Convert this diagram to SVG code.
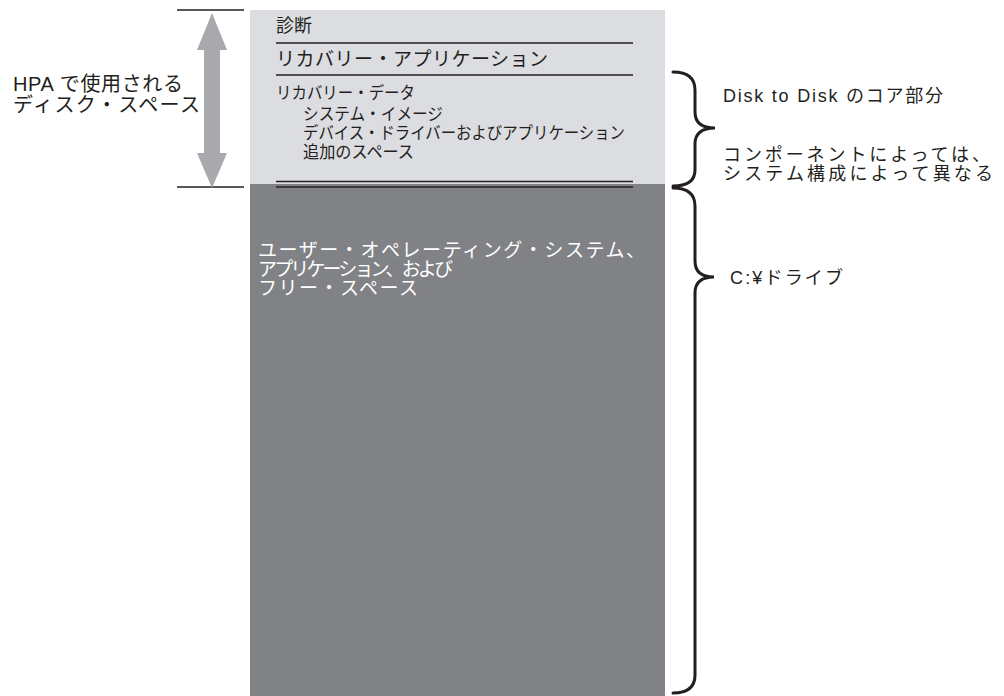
<svg xmlns="http://www.w3.org/2000/svg" width="1004" height="696" viewBox="0 0 1004 696">
<style>
text{font-family:"Liberation Sans","Noto Sans CJK JP",sans-serif;fill:#231f20}
.s17{font-size:17px}
.s18{font-size:18px}
.s19{font-size:19px}
.s20{font-size:20px}
.w{fill:#ffffff}
.rule{stroke:#231f20;stroke-width:1.3;fill:none}
.brace{stroke:#231f20;stroke-width:3;fill:none;stroke-linecap:round}
</style>
<rect width="1004" height="696" fill="#ffffff"/>
<g id="hpa">
<rect x="250" y="10" width="415" height="174" fill="#dcdde0"/>
<text class="s18" x="276" y="32">診断</text>
<line class="rule" x1="276" y1="43" x2="633" y2="43"/>
<text class="s19" x="276" y="66" textLength="272" lengthAdjust="spacing">リカバリー・アプリケーション</text>
<line class="rule" x1="276" y1="75" x2="633" y2="75"/>
<text class="s17" x="276" y="99" textLength="139" lengthAdjust="spacingAndGlyphs">リカバリー・データ</text>
<text class="s17" x="303" y="120" textLength="140" lengthAdjust="spacingAndGlyphs">システム・イメージ</text>
<text class="s17" x="303" y="139" textLength="322" lengthAdjust="spacingAndGlyphs">デバイス・ドライバーおよびアプリケーション</text>
<text class="s17" x="303" y="158" textLength="111" lengthAdjust="spacingAndGlyphs">追加のスペース</text>
<line class="rule" x1="276" y1="181.5" x2="633" y2="181.5"/>
</g>
<g id="cdrive">
<rect x="250" y="184" width="415" height="512" fill="#808285"/>
<line class="rule" x1="276" y1="187" x2="633" y2="187"/>
<text class="s19 w" x="258" y="257" textLength="387" lengthAdjust="spacing">ユーザー・オペレーティング・システム、</text>
<text class="s19 w" x="258" y="276" textLength="195" lengthAdjust="spacing">アプリケーション、および</text>
<text class="s19 w" x="258" y="295" textLength="160" lengthAdjust="spacing">フリー・スペース</text>
</g>
<g id="hpa-label">
<text class="s20" x="13" y="91" textLength="170" lengthAdjust="spacing">HPA で使用される</text>
<text class="s20" x="13" y="112" textLength="187" lengthAdjust="spacing">ディスク・スペース</text>
</g>
<g id="core-label">
<text class="s18" x="723" y="102" textLength="220" lengthAdjust="spacing">Disk to Disk のコア部分</text>
<text class="s18" x="723" y="161" textLength="267" lengthAdjust="spacing">コンポーネントによっては、</text>
<text class="s18" x="723" y="180" textLength="270" lengthAdjust="spacing">システム構成によって異なる</text>
</g>
<g id="c-label">
<text class="s18" x="730" y="284" textLength="113" lengthAdjust="spacing">C:¥ドライブ</text>
</g>
<g id="connectors">
<line class="rule" x1="177" y1="10" x2="244" y2="10"/>
<line class="rule" x1="177" y1="187" x2="244" y2="187"/>
<polygon points="212,13 227,50 220,50 220,153 227,153 212,188 197,153 204,153 204,50 197,50" fill="#a7a9ac"/>
<path class="brace" d="M673,72 Q695,72 695,90 L695,112 Q695,128 715,128 Q695,128 695,144 L695,170 Q695,186 673,186"/>
<path class="brace" d="M673,188 Q695,188 695,206 L695,261 Q695,277 714,277 Q695,277 695,293 L695,675 Q695,693 673,693"/>
</g>
</svg>
